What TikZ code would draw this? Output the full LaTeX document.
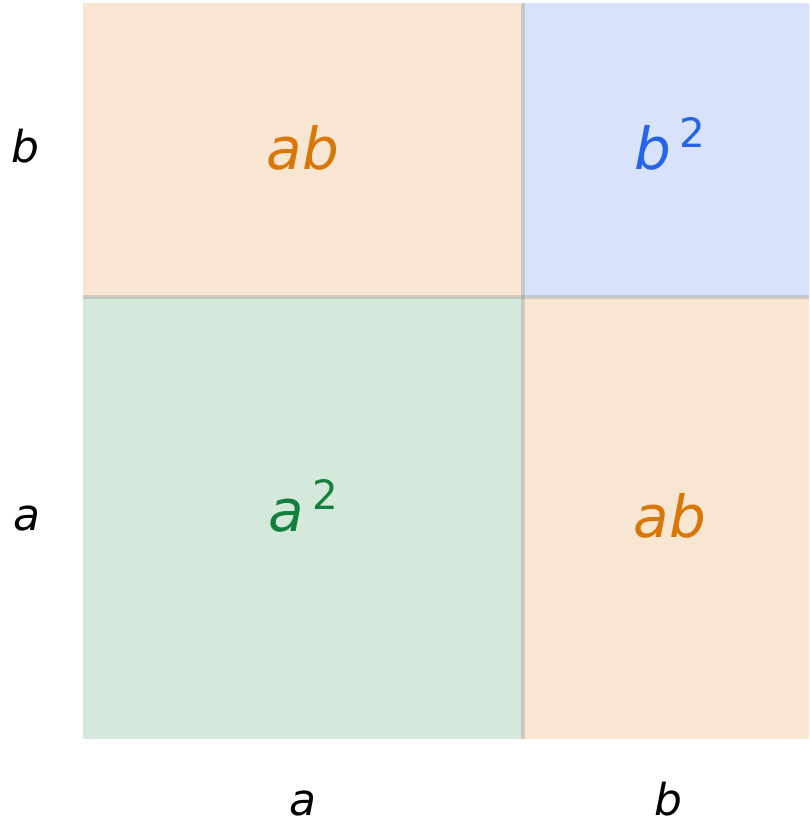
\documentclass[tikz,border=0pt]{standalone}
\usepackage{fontspec}
\setmainfont{DejaVu Sans}
\usetikzlibrary{positioning}
\definecolor{abFill}{HTML}{F8E6D2}
\definecolor{bFill}{HTML}{D8E3FB}
\definecolor{aFill}{HTML}{D5E8DC}
\definecolor{abText}{HTML}{D97706}
\definecolor{bText}{HTML}{2563EB}
\definecolor{aText}{HTML}{15803D}
\newcommand{\celltext}[1]{\raisebox{3pt}{\textit{#1}}}
\newcommand{\sqlabel}[1]{\raisebox{3pt}{\textit{#1}\hspace{0.15em}\smash{\raisebox{12.5pt}{\fontsize{23}{23}\selectfont 2}}}}

\begin{document}
\begin{tikzpicture}[
  cell/.style={inner sep=0pt,outer sep=0pt,font=\fontsize{33}{38}\selectfont},
  side/.style={font=\fontsize{25}{30}\selectfont\itshape,anchor=base},
  divider/.style={draw=black!60,opacity=.22,line width=2.3pt}
]
  \clip (0,0) rectangle (16.18,16.5);
  \node[cell,fill=abFill,text=abText,minimum width=8.8cm,minimum height=5.88cm] (abTop) at (6.06,13.5) {\celltext{ab}};
  \node[cell,fill=bFill,text=bText,minimum width=5.88cm,minimum height=5.88cm,right=0cm of abTop] (sqB) {\sqlabel{b}};
  \node[cell,fill=aFill,text=aText,minimum width=8.8cm,minimum height=8.84cm,below=0cm of abTop] (sqA) {\sqlabel{a}};
  \node[cell,fill=abFill,text=abText,minimum width=5.88cm,minimum height=8.84cm,right=0cm of sqA] (abBot) {\celltext{ab}};
  \draw[divider] (abTop.north east) -- (sqA.south east);
  \draw[divider] (abTop.south west) -- (abBot.north east);
  % side lengths
  \node[side] (leftB) at (0.5,13.24) {b};
  \node[side] (leftA) at (0.54,5.88) {a};
  \node[side] (bottomA) at (6.06,0.2) {a};
  \node[side] (bottomB) at (13.36,0.2) {b};
\end{tikzpicture}
\end{document}
